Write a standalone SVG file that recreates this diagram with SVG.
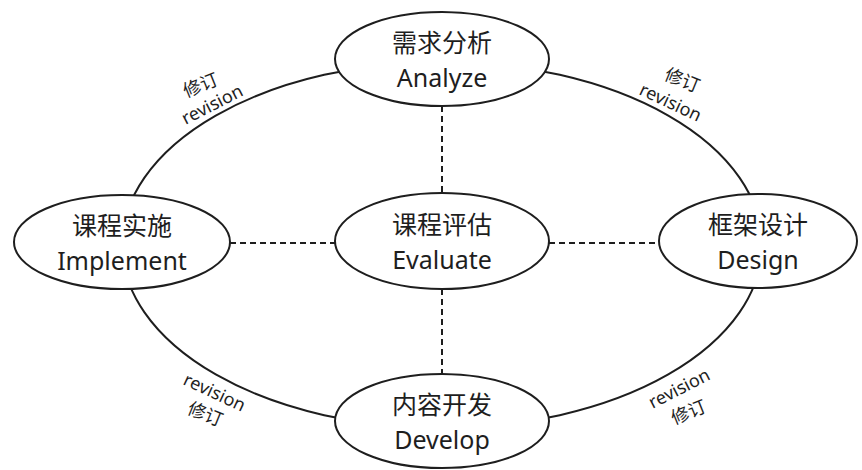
<svg xmlns="http://www.w3.org/2000/svg" width="862" height="470" viewBox="0 0 862 470">
<style>
.node ellipse{fill:#fff;stroke:#1e1e1e;stroke-width:2}
.t{font-family:"Noto Sans","Noto Sans CJK SC",sans-serif;fill:#1e1e1e;text-anchor:middle}
.zh{font-size:25px}
.en{font-size:25px}
.lab{font-size:18px}
.loop{fill:none;stroke:#1e1e1e;stroke-width:2}
.dash{stroke:#1e1e1e;stroke-width:2;stroke-dasharray:6 4;fill:none}
</style>
<rect width="862" height="470" fill="#fff"/>
<g id="connectors">
<ellipse class="loop" cx="442" cy="245" rx="320" ry="183"/>
<line class="dash" x1="442" y1="106" x2="442" y2="193"/>
<line class="dash" x1="442" y1="289" x2="442" y2="374"/>
<line class="dash" x1="230" y1="243" x2="335" y2="243"/>
<line class="dash" x1="549" y1="243" x2="659" y2="243"/>
</g>
<g id="labels">
<text class="t lab" transform="translate(215,110) rotate(-27)">revision</text>
<text class="t lab" transform="translate(203,91) rotate(-22)">修订</text>
<text class="t lab" transform="translate(668,108) rotate(25)">revision</text>
<text class="t lab" transform="translate(680,86) rotate(22)">修订</text>
<text class="t lab" transform="translate(212,398) rotate(25)">revision</text>
<text class="t lab" transform="translate(203,420) rotate(22)">修订</text>
<text class="t lab" transform="translate(682,394) rotate(-27)">revision</text>
<text class="t lab" transform="translate(691,418) rotate(-22)">修订</text>
</g>
<g id="analyze" class="node">
<ellipse cx="442" cy="59" rx="107" ry="47"/>
<text class="t zh" x="442" y="52">需求分析</text>
<text class="t en" x="442" y="87">Analyze</text>
</g>
<g id="implement" class="node">
<ellipse cx="122" cy="242" rx="108" ry="47"/>
<text class="t zh" x="122" y="235">课程实施</text>
<text class="t en" x="122" y="270">Implement</text>
</g>
<g id="evaluate" class="node">
<ellipse cx="442" cy="241" rx="107" ry="48"/>
<text class="t zh" x="442" y="234">课程评估</text>
<text class="t en" x="442" y="269">Evaluate</text>
</g>
<g id="design" class="node">
<ellipse cx="758" cy="241" rx="99" ry="47"/>
<text class="t zh" x="758" y="234">框架设计</text>
<text class="t en" x="758" y="269">Design</text>
</g>
<g id="develop" class="node">
<ellipse cx="442" cy="421" rx="107" ry="47"/>
<text class="t zh" x="442" y="414">内容开发</text>
<text class="t en" x="442" y="449">Develop</text>
</g>
</svg>
